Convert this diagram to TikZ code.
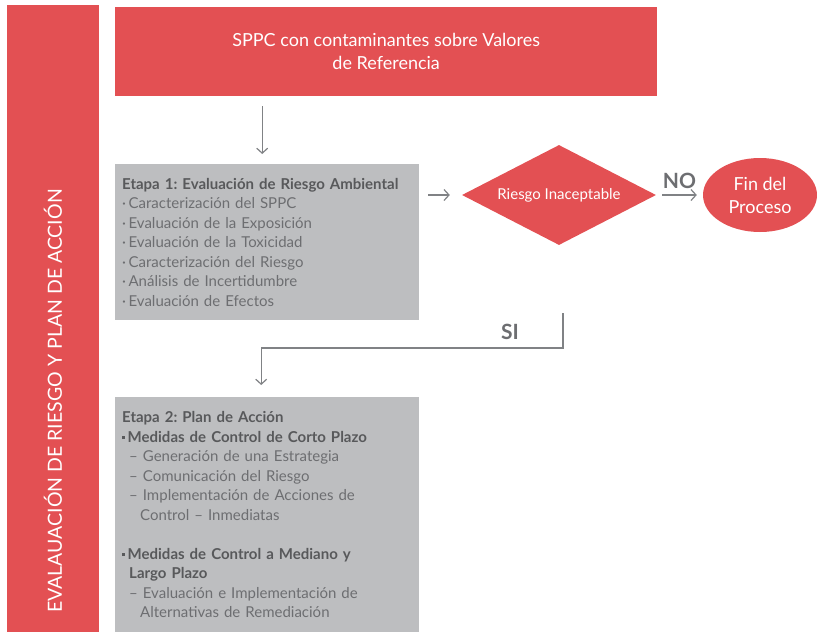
\documentclass[tikz,border=0pt]{standalone}
\usepackage{fontspec}
\setmainfont{Lato}
\frenchspacing
\usetikzlibrary{shapes.geometric,arrows.meta}

\definecolor{rojo}{HTML}{E35053}
\definecolor{grisbox}{HTML}{BDBEC0}
\definecolor{gristexto}{HTML}{6D6E71}
\definecolor{grisosc}{HTML}{58595B}
\definecolor{grisflecha}{HTML}{808285}

\newcommand{\cuadrito}{\rule[3pt]{3pt}{3pt}\,}

\begin{document}
\begin{tikzpicture}[x=1pt,y=-1pt,
    roja/.style={fill=rojo, text=white, align=center, inner sep=0},
    caja/.style={fill=grisbox, text=gristexto, align=left, anchor=north west,
      inner xsep=7pt, text width=290pt, font=\fontsize{15}{19.5}\selectfont},
    flecha/.style={-{Straight Barb[length=5pt,width=11pt]}, draw=grisflecha, line width=1.2pt},
    etiqueta/.style={text=gristexto, font=\fontsize{21}{21}\selectfont\bfseries}]
  \useasboundingbox (0,0) rectangle (817,633);

  % Draw the side bar
  \node[roja, anchor=north west, minimum width=92, minimum height=627] (barra) at (7,5) {};
  \node[text=white, rotate=90, font=\fontsize{19.5}{19.5}\selectfont] (titulo) at (53,401)
    {EVALAUACIÓN DE RIESGO Y PLAN DE ACCIÓN};

  % Draw the boxes
  \node[roja, anchor=north west, minimum width=542, minimum height=89,
    font=\fontsize{18}{23}\selectfont] (sppc) at (115,7)
    {SPPC con contaminantes sobre Valores\\de Referencia};

  \node[caja, minimum height=156] (etapa1) at (115,164) {%
    {\color{grisosc}\bfseries Etapa 1: Evaluación de Riesgo Ambiental}\\
    ·\,Caracterización del SPPC\\
    ·\,Evaluación de la Exposición\\
    ·\,Evaluación de la Toxicidad\\
    ·\,Caracterización del Riesgo\\
    ·\,Análisis de Incertidumbre\\
    ·\,Evaluación de Efectos};

  \node[roja, diamond, aspect=1.94, minimum width=194, minimum height=100,
    font=\fontsize{15}{16}\selectfont] (riesgo) at (559,195) {Riesgo Inaceptable};

  \node[roja, ellipse, minimum width=114, minimum height=74,
    font=\fontsize{18}{23}\selectfont] (fin) at (760,195) {Fin del\\Proceso};

  \node[caja, minimum height=235] (etapa2) at (115,397) {%
    {\color{grisosc}\bfseries Etapa 2: Plan de Acción}\\
    {\color{grisosc}\bfseries\cuadrito Medidas de Control de Corto Plazo}\\
    \hspace*{7pt}– Generación de una Estrategia\\
    \hspace*{7pt}– Comunicación del Riesgo\\
    \hspace*{7pt}– Implementación de Acciones de\\
    \hspace*{18pt}Control – Inmediatas\\[19.5pt]
    {\color{grisosc}\bfseries\cuadrito Medidas de Control a Mediano y}\\
    {\color{grisosc}\bfseries\hspace*{7pt}Largo Plazo}\\
    \hspace*{7pt}– Evaluación e Implementación de\\
    \hspace*{18pt}Alternativas de Remediación};

  % Draw the arrows
  \draw[flecha, shorten <=10, shorten >=10] ([xshift=-5]etapa1.north |- sppc.south) -- ([xshift=-5]etapa1.north);
  \draw[flecha, shorten <=9, shorten >=12] (etapa1.east |- riesgo.west) -- (riesgo.west);
  \draw[flecha, shorten <=6, shorten >=6] (riesgo.east) -- (fin.west)
    node[etiqueta, midway, above=2pt] {NO};
  \coordinate (si) at (563,313);
  \draw[flecha, shorten >=12] (si) -- ++(0,35) -| node[etiqueta, pos=0.088, above=4pt] {SI}
    ([xshift=-6]etapa2.north);
\end{tikzpicture}
\end{document}
